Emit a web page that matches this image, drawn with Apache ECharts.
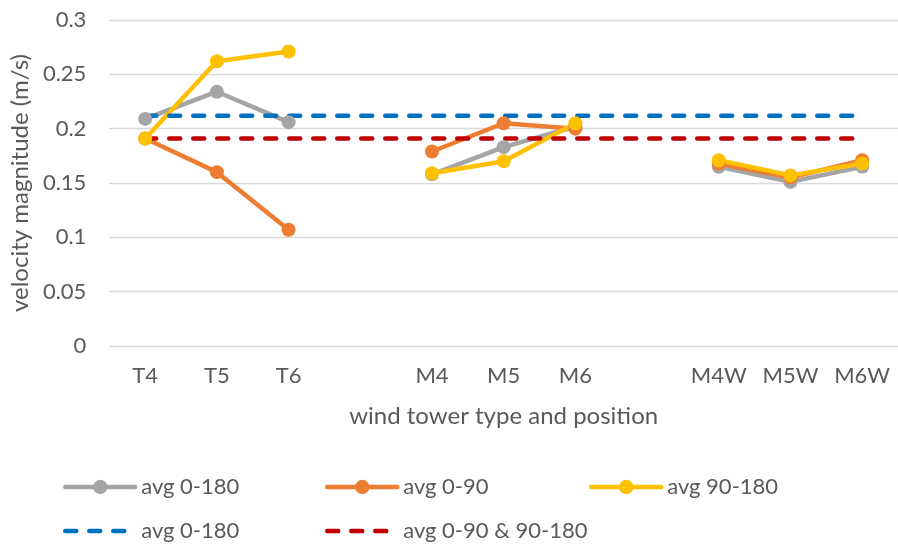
<!DOCTYPE html>
<html>
<head>
<meta charset="utf-8">
<script src="https://cdn.jsdelivr.net/npm/echarts@6/dist/echarts.min.js"></script>
<style>
html,body{margin:0;padding:0;background:#fff;}
#chart{width:898px;height:546px;}
</style>
</head>
<body>
<div id="chart"></div>
<script>
var categories = ['T4','T5','T6','','M4','M5','M6','','M4W','M5W','M6W'];
var avg0_180 = [0.209,0.234,0.206,null,0.158,0.183,0.202,null,0.165,0.151,0.165];
var avg0_90 = [0.191,0.160,0.107,null,0.179,0.205,0.200,null,0.168,0.155,0.171];
var avg90_180 = [0.191,0.262,0.271,null,0.159,0.170,0.205,null,0.171,0.157,0.168];
var overallAvg0_180 = 0.212;
var overallAvg0_90_90_180 = 0.191;
var yTicks = {min:0, max:0.3, interval:0.05};

var FONT = 'Lato';
var TXT = '#595959';

function constLine(v){ return categories.map(function(){ return v; }); }

var names = ['avg 0-180','avg 0-90','avg 90-180','avg 0-180 ','avg 0-90 & 90-180'];
var colors = ['#A5A5A5','#ED7D31','#FFC000','#0070C0','#C00000'];
var DASH = [11,13];

function mkLegend(i, left, top, dashed){
  var l = {
    data:[names[i]], left:left, top:top, itemWidth:70, itemHeight:18, itemGap:0,
    selectedMode:false, padding:0,
    lineStyle:{width:4.5, color:colors[i], type: dashed ? DASH : 'solid', cap:'round'},
    textStyle:{fontFamily:FONT, fontSize:22, color:TXT, padding:[0,0,0,1]}
  };
  if (dashed) l.itemStyle = {opacity:0};
  return l;
}

var chart = echarts.init(document.getElementById('chart'), null, {renderer:'canvas'});
chart.setOption({
  animation:false,
  grid:{left:107, right:0, top:20, bottom:200, containLabel:false},
  legend:[
    mkLegend(0, 63, 476, false),
    mkLegend(1, 325, 476, false),
    mkLegend(2, 589, 476, false),
    mkLegend(3, 63, 520, true),
    mkLegend(4, 325, 520, true)
  ],
  xAxis:{
    type:'category', data:categories, boundaryGap:true,
    axisLine:{show:false}, axisTick:{show:false},
    axisLabel:{fontFamily:FONT, fontSize:22, color:TXT, margin:19, interval:0},
    name:'wind tower type and position', nameLocation:'middle', nameGap:58,
    nameTextStyle:{fontFamily:FONT, fontSize:24, color:TXT}
  },
  yAxis:{
    type:'value', min:yTicks.min, max:yTicks.max, interval:yTicks.interval,
    axisLine:{show:false}, axisTick:{show:false},
    axisLabel:{fontFamily:FONT, fontSize:22, color:TXT, margin:23,
      formatter:function(v){ return String(parseFloat(v.toFixed(2))); }},
    splitLine:{lineStyle:{color:'#d9d9d9', width:1.3}},
    name:'velocity magnitude (m/s)', nameLocation:'middle', nameGap:75,
    nameTextStyle:{fontFamily:FONT, fontSize:24, color:TXT}
  },
  series:[
    {name:names[0], type:'line', data:avg0_180, symbol:'circle', symbolSize:14,
     itemStyle:{color:colors[0]}, lineStyle:{color:colors[0], width:4.5}, connectNulls:false},
    {name:names[1], type:'line', data:avg0_90, symbol:'circle', symbolSize:14,
     itemStyle:{color:colors[1]}, lineStyle:{color:colors[1], width:4.5}, connectNulls:false},
    {name:names[2], type:'line', data:avg90_180, symbol:'circle', symbolSize:14,
     itemStyle:{color:colors[2]}, lineStyle:{color:colors[2], width:4.5}, connectNulls:false},
    {name:names[3], type:'line', data:constLine(overallAvg0_180), symbol:'none',
     itemStyle:{color:colors[3]}, lineStyle:{color:colors[3], width:4.5, type:DASH, cap:'round'}},
    {name:names[4], type:'line', data:constLine(overallAvg0_90_90_180), symbol:'none',
     itemStyle:{color:colors[4]}, lineStyle:{color:colors[4], width:4.5, type:DASH, cap:'round'}}
  ]
});
</script>
</body>
</html>
